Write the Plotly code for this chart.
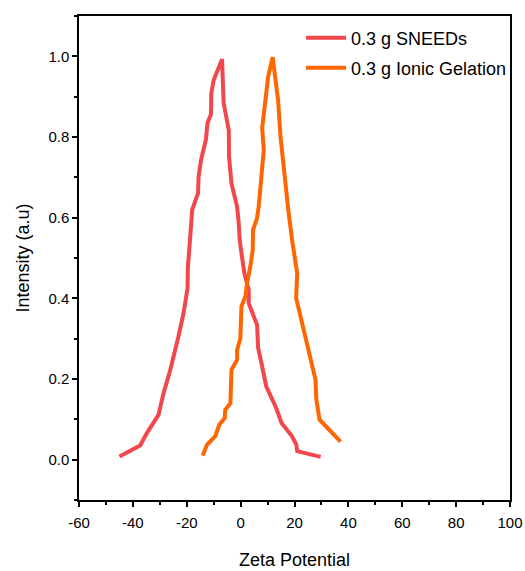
import plotly.graph_objects as go

sneeds_x = [-45.0, -37.3, -34.8, -30.5, -28.6, -26.1, -23.1, -21.2, -19.7, -19.6, -18.7, -18.0,
            -15.8, -15.6, -14.7, -12.9, -12.3, -11.0, -10.9, -10.0, -6.9, -6.3, -4.4, -4.3,
            -3.4, -2.0, -1.3, -0.7, -0.35, 0.5, 1.4, 3.0, 3.0, 6.1, 6.5, 8.0, 9.5, 13.2,
            15.2, 19.1, 20.7, 21.0, 29.7]
sneeds_y = [0.008, 0.035, 0.066, 0.111, 0.165, 0.223, 0.305, 0.363, 0.425, 0.475, 0.553, 0.619,
            0.661, 0.702, 0.743, 0.793, 0.834, 0.857, 0.908, 0.941, 0.993, 0.884, 0.817, 0.751,
            0.685, 0.652, 0.627, 0.586, 0.545, 0.503, 0.462, 0.421, 0.388, 0.334, 0.277, 0.231,
            0.182, 0.128, 0.091, 0.058, 0.037, 0.021, 0.007]

ionic_x = [-14.1, -12.5, -9.4, -7.9, -5.9, -5.7, -3.8, -3.4, -3.4, -1.3, -1.3, -0.1, 0.3, 1.8,
           2.4, 3.6, 4.5, 4.6, 6.1, 6.7, 7.7, 8.6, 8.0, 9.2, 10.2, 11.9, 13.9, 14.8, 16.4, 17.7,
           19.1, 21.0, 20.6, 24.1, 27.8, 28.1, 29.3, 37.1]
ionic_y = [0.010, 0.037, 0.058, 0.087, 0.103, 0.124, 0.140, 0.190, 0.223, 0.248, 0.272, 0.301,
           0.380, 0.405, 0.438, 0.479, 0.520, 0.570, 0.599, 0.627, 0.702, 0.768, 0.822, 0.884,
           0.949, 0.998, 0.892, 0.801, 0.694, 0.619, 0.545, 0.462, 0.401, 0.297, 0.198, 0.149,
           0.099, 0.045]

x_ticks = [-60, -40, -20, 0, 20, 40, 60, 80, 100]
y_ticks = [0.0, 0.2, 0.4, 0.6, 0.8, 1.0]

FONT = "Liberation Sans, Arial, sans-serif"

fig = go.Figure()
fig.add_trace(go.Scatter(x=sneeds_x, y=sneeds_y, mode="lines", name="0.3 g SNEEDs",
                         line=dict(color="#F2474C", width=4), legend="legend", showlegend=True))
fig.add_trace(go.Scatter(x=ionic_x, y=ionic_y, mode="lines", name="0.3 g Ionic Gelation",
                         line=dict(color="#FF6600", width=4), legend="legend2", showlegend=True))

axis_common = dict(showline=True, linecolor="black", linewidth=1.5, mirror=True,
                   ticks="outside", ticklen=5, tickwidth=1.5, tickcolor="black",
                   showgrid=False, zeroline=False, automargin=True,
                   tickfont=dict(family=FONT, size=15, color="black"),
                   minor=dict(ticks="outside", ticklen=3, tickwidth=1.5, tickcolor="black"))

fig.update_xaxes(range=[-60, 100], tickvals=x_ticks, ticktext=[str(v) for v in x_ticks],
                 ticklabelstandoff=3,
                 title=dict(text="Zeta Potential", font=dict(family=FONT, size=18, color="black"),
                            standoff=24),
                 **axis_common)
fig.update_yaxes(range=[-0.1, 1.1], tickvals=y_ticks, ticktext=[f"{v:.1f}" for v in y_ticks],
                 title=dict(text="Intensity (a.u)", font=dict(family=FONT, size=18, color="black"),
                            standoff=14),
                 **axis_common)
fig.update_xaxes(minor=dict(dtick=10, tick0=-60))
fig.update_yaxes(minor=dict(dtick=0.1, tick0=0))

leg_common = dict(xanchor="left", yanchor="middle", bgcolor="rgba(0,0,0,0)",
                  font=dict(family=FONT, size=18, color="black"), itemwidth=40,
                  visible=True)
fig.update_layout(
    width=525, height=571,
    margin=dict(l=79, r=15, t=16, b=71, autoexpand=False),
    plot_bgcolor="white", paper_bgcolor="white",
    showlegend=True,
    legend=dict(x=(301 - 79) / 431, y=(500 - 38) / 484, **leg_common),
    legend2=dict(x=(301 - 79) / 431, y=(500 - 68) / 484, **leg_common),
)

fig.write_html("out.html",
               config={"displayModeBar": False},
               post_script="document.body.style.margin='0';document.body.style.overflow='hidden';")
